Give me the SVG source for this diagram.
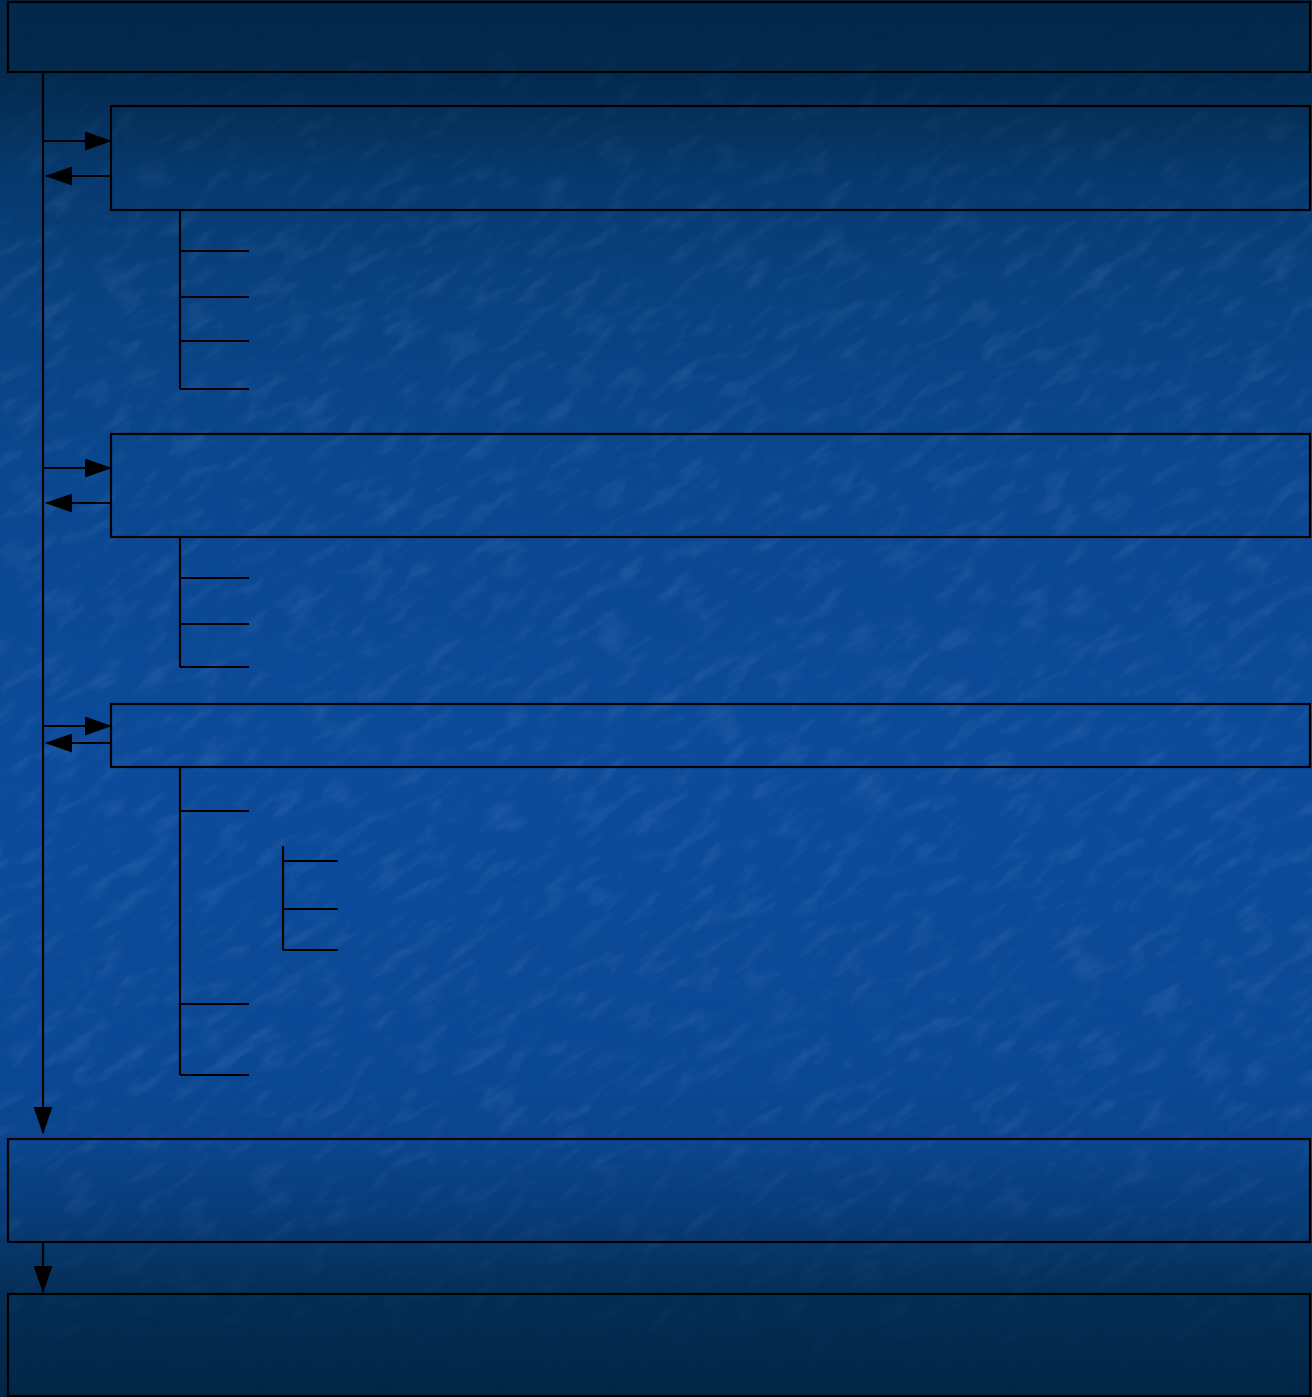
<svg xmlns="http://www.w3.org/2000/svg" width="1312" height="1397" viewBox="0 0 1312 1397">
  <defs>
    <linearGradient id="bg" x1="0" y1="0" x2="0" y2="1">
      <stop offset="0" stop-color="#03284a"/>
      <stop offset="0.05" stop-color="#03294c"/>
      <stop offset="0.075" stop-color="#042e56"/>
      <stop offset="0.12" stop-color="#06386c"/>
      <stop offset="0.2" stop-color="#09417f"/>
      <stop offset="0.35" stop-color="#0b4790"/>
      <stop offset="0.55" stop-color="#0c4b9a"/>
      <stop offset="0.75" stop-color="#0b4996"/>
      <stop offset="0.82" stop-color="#0a448c"/>
      <stop offset="0.87" stop-color="#083c78"/>
      <stop offset="0.9" stop-color="#063464"/>
      <stop offset="0.93" stop-color="#042d54"/>
      <stop offset="1" stop-color="#022646"/>
    </linearGradient>
    <linearGradient id="fade" x1="0" y1="0" x2="0" y2="1">
      <stop offset="0" stop-color="#fff" stop-opacity="0"/>
      <stop offset="0.1" stop-color="#fff" stop-opacity="0.6"/>
      <stop offset="0.2" stop-color="#fff" stop-opacity="1"/>
      <stop offset="0.8" stop-color="#fff" stop-opacity="1"/>
      <stop offset="0.9" stop-color="#fff" stop-opacity="0.5"/>
      <stop offset="1" stop-color="#fff" stop-opacity="0"/>
    </linearGradient>
    <mask id="m" maskUnits="userSpaceOnUse" x="0" y="0" width="1312" height="1397">
      <rect x="0" y="0" width="1312" height="1397" fill="url(#fade)"/>
    </mask>
    <filter id="tex" x="0" y="0" width="100%" height="100%">
      <feTurbulence type="fractalNoise" baseFrequency="0.025 0.07" numOctaves="3" seed="4" result="n"/>
      <feColorMatrix type="matrix" values="0 0 0 0 0.4  0 0 0 0 0.6  0 0 0 0 1  0 0 0 1.2 -0.58"/>
    </filter>
    <marker id="ah" markerUnits="userSpaceOnUse" markerWidth="27" markerHeight="19" refX="26" refY="9.5" orient="auto">
      <path d="M0,0 L27,9.5 L0,19 Z" fill="#000"/>
    </marker>
  </defs>
  <style>
    .box { fill: none; stroke: #000; stroke-width: 2.2; }
    .ln { fill: none; stroke: #000; stroke-width: 2.2; }
    .arr { fill: none; stroke: #000; stroke-width: 2.2; marker-end: url(#ah); }
  </style>
  <rect x="0" y="0" width="1312" height="1397" fill="url(#bg)"/>
  <g mask="url(#m)">
    <g transform="rotate(-35 656 700)" opacity="0.22">
      <rect x="-600" y="-600" width="2500" height="2600" filter="url(#tex)"/>
    </g>
  </g>

  <g id="node-top"><rect class="box" x="8" y="2" width="1302" height="70"/></g>
  <g id="node-1"><rect class="box" x="111" y="106" width="1199" height="104"/></g>
  <g id="node-2"><rect class="box" x="111" y="434" width="1199" height="103"/></g>
  <g id="node-3"><rect class="box" x="111" y="704" width="1199" height="63"/></g>
  <g id="node-4"><rect class="box" x="8" y="1139" width="1302" height="103"/></g>
  <g id="node-5"><rect class="box" x="8" y="1294" width="1302" height="102"/></g>

  <g id="connectors">
    <path class="arr" d="M43,72 V1133"/>
    <path class="arr" d="M43,141 H111"/>
    <path class="arr" d="M111,176 H46"/>
    <path class="arr" d="M43,468 H111"/>
    <path class="arr" d="M111,503 H46"/>
    <path class="arr" d="M43,726 H111"/>
    <path class="arr" d="M111,743 H46"/>
    <path class="arr" d="M43,1242 V1292"/>

    <path class="ln" d="M180,210 V389 M180,251 H249 M180,297 H249 M180,341 H249 M180,389 H249"/>
    <path class="ln" d="M180,537 V667 M180,578 H249 M180,624 H249 M180,667 H249"/>
    <path class="ln" d="M180,767 V1075 M180,811 H249 M180,1004 H249 M180,1075 H249"/>
    <path class="ln" d="M283,846 V950 M283,861 H338 M283,909 H338 M283,950 H338"/>
  </g>
</svg>
